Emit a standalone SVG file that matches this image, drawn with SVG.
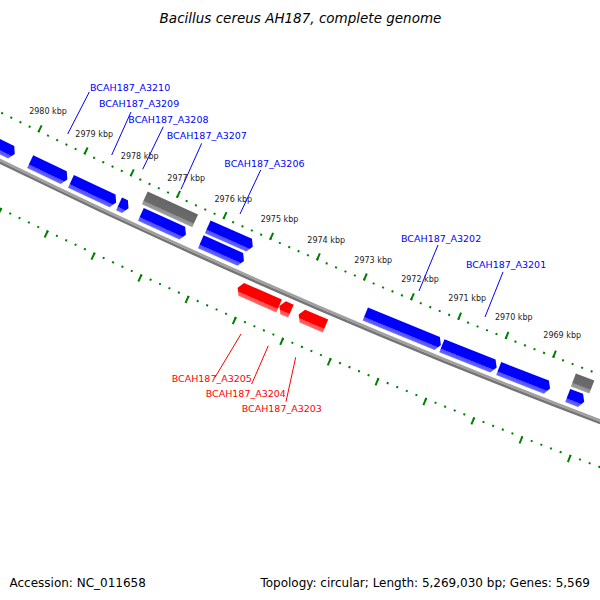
<svg xmlns="http://www.w3.org/2000/svg" width="600" height="600" viewBox="0 0 600 600">
<style>
text{font-family:"DejaVu Sans","Liberation Sans",sans-serif}
.ttl{font-size:13.5px;font-style:italic;fill:#000;text-anchor:middle}
.ft{font-size:12px;fill:#000}
.k{font-size:8px;fill:#222;text-anchor:middle}
.lb{font-size:9.5px;fill:#0000ff}
.lr{font-size:9.5px;fill:#ff0000}
.cb{stroke:#0000ff;stroke-width:1;fill:none}
.cr{stroke:#ff0000;stroke-width:1;fill:none}
.b{fill:url(#gb)}
.r{fill:url(#gr)}
.g{fill:url(#gg)}
.ring{fill:none;stroke:#008000}
</style>
<defs>
<linearGradient id="gb" x1="0" y1="0" x2="1" y2="0">
<stop offset="0" stop-color="#0000ff"/><stop offset="0.7" stop-color="#0000ff"/><stop offset="0.72" stop-color="#4b4bff"/><stop offset="1" stop-color="#6b6bff"/>
</linearGradient>
<linearGradient id="gr" x1="0" y1="0" x2="1" y2="0">
<stop offset="0" stop-color="#ff0000"/><stop offset="0.7" stop-color="#ff0000"/><stop offset="0.72" stop-color="#ff4b4b"/><stop offset="1" stop-color="#ff6b6b"/>
</linearGradient>
<linearGradient id="gg" x1="0" y1="0" x2="1" y2="0">
<stop offset="0" stop-color="#666"/><stop offset="0.7" stop-color="#6b6b6b"/><stop offset="0.72" stop-color="#8e8e8e"/><stop offset="1" stop-color="#a0a0a0"/>
</linearGradient>
</defs>
<rect width="600" height="600" fill="#fff"/>
<text class="ttl" x="300.5" y="23">Bacillus cereus AH187, complete genome</text>

<g id="map" transform="translate(3085.1,-6123.4)">
<g id="backbone" transform="rotate(116.81006)">
<path d="M6999.75,0 A6999.75,6999.75 0 0 0 6953.360,-804.532" fill="none" stroke="#a0a0a0" stroke-width="2.5"/>
<path d="M7002.25,0 A7002.25,7002.25 0 0 0 6955.844,-804.819" fill="none" stroke="#747474" stroke-width="2.5"/>
</g>
<g id="ticks" transform="rotate(116.81006)">
<path class="ring" d="M6957,0 A6957,6957 0 0 0 6910.894,-799.618" stroke-width="2" stroke-dasharray="2 8.2194" stroke-dashoffset="1"/>
<path class="ring" d="M6954.25,0 A6954.25,6954.25 0 0 0 6908.162,-799.302" stroke-width="7.5" stroke-dasharray="2 49.077" stroke-dashoffset="1"/>
<path class="ring" d="M7043.5,0 A7043.5,7043.5 0 0 0 6996.820,-809.560" stroke-width="2" stroke-dasharray="2 8.3465" stroke-dashoffset="1"/>
<path class="ring" d="M7046.5,0 A7046.5,7046.5 0 0 0 6999.800,-809.905" stroke-width="7.5" stroke-dasharray="2 49.7544" stroke-dashoffset="1"/>
</g>
</g>

<g id="tick-labels">
<text class="k" x="48" y="114.3">2980 kbp</text>
<text class="k" x="94.2" y="136.7">2979 kbp</text>
<text class="k" x="139.7" y="159.3">2978 kbp</text>
<text class="k" x="186.2" y="180.7">2977 kbp</text>
<text class="k" x="233.3" y="201.7">2976 kbp</text>
<text class="k" x="279.5" y="222.3">2975 kbp</text>
<text class="k" x="326.2" y="242.7">2974 kbp</text>
<text class="k" x="373.2" y="262.7">2973 kbp</text>
<text class="k" x="420" y="281.7">2972 kbp</text>
<text class="k" x="467.2" y="301">2971 kbp</text>
<text class="k" x="513.8" y="320">2970 kbp</text>
<text class="k" x="562.2" y="337.7">2969 kbp</text>
</g>

<g id="connectors">
<line class="cb" x1="89.3" y1="92" x2="67.7" y2="134"/>
<line class="cb" x1="131" y1="112" x2="111.7" y2="155"/>
<line class="cb" x1="163.3" y1="126.7" x2="142.7" y2="169.3"/>
<line class="cb" x1="201.7" y1="143.3" x2="181" y2="189.3"/>
<line class="cb" x1="260.7" y1="170" x2="240" y2="214"/>
<line class="cb" x1="438" y1="245" x2="419" y2="291"/>
<line class="cb" x1="503" y1="272" x2="485" y2="317"/>
<line class="cr" x1="241" y1="334" x2="215" y2="377.3"/>
<line class="cr" x1="268.3" y1="345.7" x2="251.7" y2="384"/>
<line class="cr" x1="295.7" y1="357.3" x2="286" y2="401.7"/>
</g>

<g id="gene-1"><g transform="translate(3085.1,-6123.4) rotate(116.064) translate(6981,0)"><path class="b" d="M0,53.2 L0,4 L7,0 L14,4 L14,53.2Z"/></g></g>
<g id="BCAH187_A3210"><g transform="translate(3085.1,-6123.4) rotate(115.585) translate(6981,0)"><path class="b" d="M0,41.2 L0,4 L7,0 L14,4 L14,41.2Z"/></g><text class="lb" x="90" y="90.7">BCAH187_A3210</text></g>
<g id="BCAH187_A3209"><g transform="translate(3085.1,-6123.4) rotate(115.142) translate(6981,0)"><path class="b" d="M0,49.9 L0,4 L7,0 L14,4 L14,49.9Z"/></g><text class="lb" x="99" y="107.3">BCAH187_A3209</text></g>
<g id="BCAH187_A3208"><g transform="translate(3085.1,-6123.4) rotate(115.030) translate(6981,0)"><path class="b" d="M0,10.5 L0,4 L7,0 L14,4 L14,10.5Z"/></g><text class="lb" x="128.3" y="122.7">BCAH187_A3208</text></g>
<g id="gene-gray-1"><g transform="translate(3085.1,-6123.4) rotate(114.490) translate(6964.5,0)"><path class="g" d="M0,0 H14 V55.4 H0Z"/></g></g>
<g id="BCAH187_A3207"><g transform="translate(3085.1,-6123.4) rotate(114.512) translate(6981,0)"><path class="b" d="M0,49.5 L0,4 L7,0 L14,4 L14,49.5Z"/></g><text class="lb" x="166.7" y="139.3">BCAH187_A3207</text></g>
<g id="gene-2"><g transform="translate(3085.1,-6123.4) rotate(113.971) translate(6964.5,0)"><path class="b" d="M0,49.3 L0,4 L7,0 L14,4 L14,49.3Z"/></g></g>
<g id="BCAH187_A3206"><g transform="translate(3085.1,-6123.4) rotate(113.990) translate(6981,0)"><path class="b" d="M0,47.2 L0,4 L7,0 L14,4 L14,47.2Z"/></g><text class="lb" x="224.3" y="166.7">BCAH187_A3206</text></g>
<g id="BCAH187_A3205"><g transform="translate(3085.1,-6123.4) rotate(113.578) translate(7008,0)"><path class="r" d="M0,0 L0,41.3 L7,45.3 L14,41.3 L14,0Z"/></g><text class="lr" x="171.7" y="382.3">BCAH187_A3205</text></g>
<g id="BCAH187_A3204"><g transform="translate(3085.1,-6123.4) rotate(113.473) translate(7008,0)"><path class="r" d="M0,0 L0,8.5 L7,12.5 L14,8.5 L14,0Z"/></g><text class="lr" x="205.7" y="397.3">BCAH187_A3204</text></g>
<g id="BCAH187_A3203"><g transform="translate(3085.1,-6123.4) rotate(113.166) translate(7008,0)"><path class="r" d="M0,0 L0,25.1 L7,29.1 L14,25.1 L14,0Z"/></g><text class="lr" x="241.7" y="412.3">BCAH187_A3203</text></g>
<g id="BCAH187_A3202"><g transform="translate(3085.1,-6123.4) rotate(112.234) translate(6981,0)"><path class="b" d="M0,81.7 L0,4 L7,0 L14,4 L14,81.7Z"/></g><text class="lb" x="401" y="241.7">BCAH187_A3202</text></g>
<g id="BCAH187_A3201"><g transform="translate(3085.1,-6123.4) rotate(111.741) translate(6981,0)"><path class="b" d="M0,59 L0,4 L7,0 L14,4 L14,59Z"/></g><text class="lb" x="466" y="267.7">BCAH187_A3201</text></g>
<g id="gene-3"><g transform="translate(3085.1,-6123.4) rotate(111.2705) translate(6981,0)"><path class="b" d="M0,55.1 L0,4 L7,0 L14,4 L14,55.1Z"/></g></g>
<g id="gene-gray-2"><g transform="translate(3085.1,-6123.4) rotate(110.955) translate(6964.5,0)"><path class="g" d="M0,0 H14 V19.8 H0Z"/></g></g>
<g id="gene-4"><g transform="translate(3085.1,-6123.4) rotate(110.970) translate(6981,0)"><path class="b" d="M0,17.7 L0,4 L7,0 L14,4 L14,17.7Z"/></g></g>

<g id="footer">
<text class="ft" x="9.5" y="586.5">Accession: NC_011658</text>
<text class="ft" x="590" y="586.5" text-anchor="end">Topology: circular; Length: 5,269,030 bp; Genes: 5,569</text>
</g>
</svg>
